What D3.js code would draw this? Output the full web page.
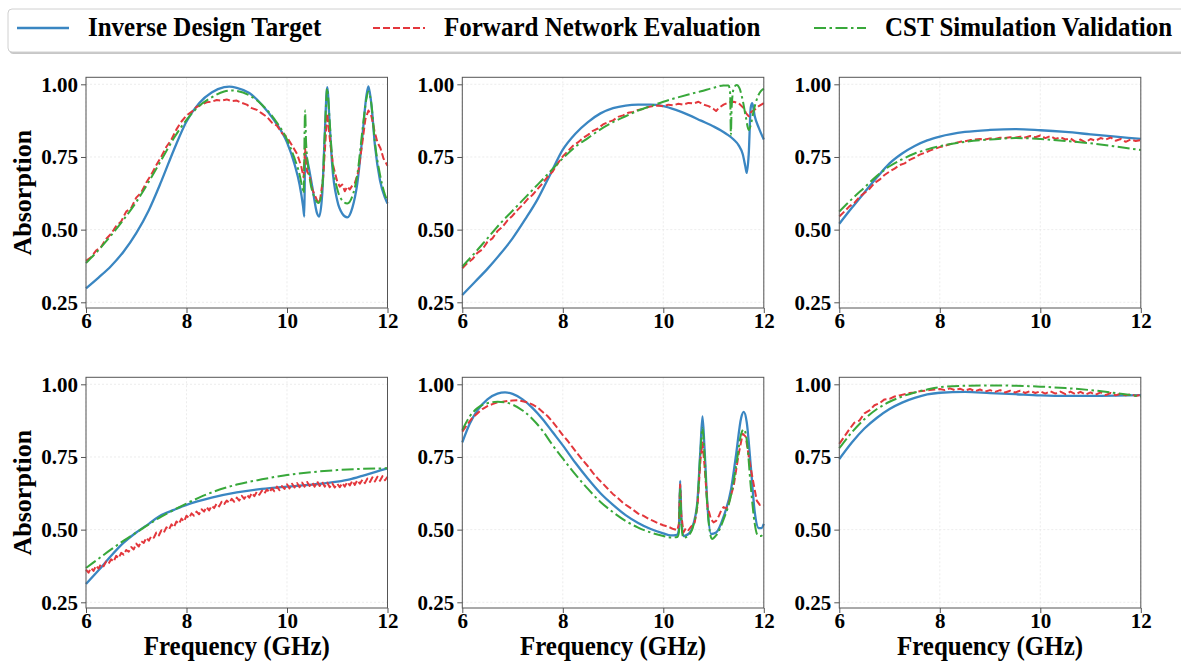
<!DOCTYPE html>
<meta charset="utf-8">
<script src="https://d3js.org/d3.v7.min.js"></script>
<style>
  body { margin: 0; background: #fff; }
  text { font-family: "Liberation Serif", "Times New Roman", serif; font-weight: bold; }
</style>
<svg id="chart" width="1181" height="663"></svg>
<script>

// Series names, in legend order
var seriesNames = ["Inverse Design Target", "Forward Network Evaluation", "CST Simulation Validation"];
var xTicks = [6, 8, 10, 12];
var yTicks = [0.25, 0.50, 0.75, 1.00];

// [frequency GHz, absorption]
var target1 = [[6.0,.298],[6.25,.335],[6.5,.375],[6.75,.425],[7.0,.488],[7.25,.567],[7.5,.667],[7.75,.775],[8.0,.872],[8.25,.935],[8.5,.972],[8.75,.99],[8.85,.992],[9.0,.988],[9.25,.97],[9.5,.93],[9.75,.875],[10.0,.80],[10.15,.725],[10.25,.655],[10.32,.58],[10.345,.545],[10.36,.76],[10.4,.74],[10.5,.65],[10.6,.555],[10.64,.545],[10.7,.62],[10.75,.82],[10.8,.99],[10.85,.86],[10.9,.72],[11.0,.60],[11.1,.555],[11.2,.542],[11.3,.575],[11.4,.66],[11.5,.82],[11.58,.96],[11.62,.993],[11.68,.93],[11.75,.79],[11.85,.67],[11.95,.61],[12.0,.59]];
var forward1 = [[6.0,.393],[6.1,.405],[6.2,.428],[6.3,.44],[6.4,.468],[6.5,.486],[6.6,.512],[6.7,.528],[6.8,.562],[6.9,.575],[7.0,.61],[7.1,.628],[7.2,.662],[7.3,.69],[7.4,.722],[7.5,.752],[7.6,.785],[7.7,.81],[7.8,.845],[7.9,.872],[8.0,.893],[8.1,.905],[8.2,.922],[8.3,.93],[8.4,.938],[8.5,.94],[8.6,.946],[8.7,.944],[8.8,.948],[8.9,.942],[9.0,.944],[9.1,.936],[9.2,.93],[9.3,.918],[9.4,.912],[9.5,.90],[9.6,.888],[9.7,.868],[9.8,.858],[9.9,.832],[10.0,.818],[10.1,.79],[10.2,.76],[10.28,.72],[10.33,.68],[10.36,.78],[10.4,.70],[10.45,.685],[10.5,.64],[10.6,.60],[10.65,.592],[10.72,.68],[10.8,.90],[10.86,.80],[10.92,.72],[11.0,.665],[11.05,.648],[11.1,.655],[11.15,.632],[11.2,.648],[11.25,.638],[11.3,.652],[11.35,.66],[11.42,.70],[11.5,.80],[11.56,.88],[11.62,.91],[11.68,.89],[11.74,.84],[11.8,.80],[11.86,.78],[11.92,.745],[12.0,.72]];
var cst1 = [[6.0,.385],[6.25,.43],[6.5,.48],[6.75,.535],[7.0,.595],[7.25,.665],[7.5,.74],[7.75,.815],[8.0,.878],[8.25,.925],[8.5,.955],[8.75,.975],[8.9,.979],[9.0,.977],[9.25,.962],[9.5,.93],[9.75,.88],[10.0,.81],[10.15,.745],[10.25,.69],[10.31,.64],[10.33,.625],[10.36,.91],[10.38,.80],[10.45,.68],[10.55,.61],[10.63,.592],[10.7,.64],[10.75,.82],[10.8,.985],[10.85,.87],[10.9,.74],[11.0,.64],[11.1,.60],[11.2,.59],[11.3,.615],[11.4,.69],[11.5,.84],[11.58,.95],[11.62,.975],[11.68,.93],[11.75,.80],[11.85,.69],[11.95,.62],[12.0,.60]];

var target2 = [[6.0,.275],[6.25,.32],[6.5,.365],[6.75,.415],[7.0,.47],[7.25,.535],[7.5,.605],[7.75,.69],[8.0,.775],[8.25,.83],[8.5,.87],[8.75,.90],[9.0,.918],[9.25,.927],[9.5,.93],[9.75,.93],[10.0,.925],[10.25,.912],[10.5,.895],[10.75,.875],[11.0,.855],[11.25,.83],[11.4,.81],[11.5,.79],[11.58,.76],[11.63,.72],[11.66,.695],[11.7,.76],[11.74,.92],[11.77,.935],[11.82,.89],[11.9,.85],[12.0,.81]];
var forward2 = [[6.0,.367],[6.1,.385],[6.2,.398],[6.3,.42],[6.4,.432],[6.5,.458],[6.6,.47],[6.7,.495],[6.8,.51],[6.9,.532],[7.0,.548],[7.1,.568],[7.2,.585],[7.3,.605],[7.4,.62],[7.5,.64],[7.6,.66],[7.7,.682],[7.8,.70],[7.9,.728],[8.0,.752],[8.1,.77],[8.2,.788],[8.3,.80],[8.4,.815],[8.5,.826],[8.6,.84],[8.7,.848],[8.8,.862],[8.9,.87],[9.0,.876],[9.1,.888],[9.2,.893],[9.3,.902],[9.4,.905],[9.5,.912],[9.6,.915],[9.7,.922],[9.8,.925],[9.9,.927],[10.0,.924],[10.1,.93],[10.2,.928],[10.3,.933],[10.4,.93],[10.5,.936],[10.6,.934],[10.7,.94],[10.8,.93],[10.9,.925],[11.0,.915],[11.05,.908],[11.1,.918],[11.2,.93],[11.3,.938],[11.4,.94],[11.5,.935],[11.6,.918],[11.65,.90],[11.7,.89],[11.75,.905],[11.8,.91],[11.9,.925],[12.0,.935]];
var cst2 = [[6.0,.373],[6.25,.42],[6.5,.47],[6.75,.52],[7.0,.565],[7.25,.61],[7.5,.655],[7.75,.70],[8.0,.745],[8.25,.785],[8.5,.815],[8.75,.845],[9.0,.87],[9.25,.89],[9.5,.91],[9.75,.925],[10.0,.94],[10.25,.953],[10.5,.965],[10.75,.976],[11.0,.988],[11.2,.996],[11.3,.996],[11.33,.97],[11.345,.826],[11.36,.92],[11.4,.985],[11.46,.998],[11.52,.985],[11.58,.945],[11.64,.89],[11.7,.843],[11.74,.86],[11.8,.91],[11.88,.958],[11.95,.978],[12.0,.985]];

var target3 = [[6.0,.52],[6.25,.575],[6.5,.628],[6.75,.68],[7.0,.728],[7.25,.762],[7.5,.788],[7.75,.807],[8.0,.82],[8.5,.836],[9.0,.843],[9.5,.846],[10.0,.842],[10.5,.836],[11.0,.828],[11.5,.82],[12.0,.812]];
var forward3 = [[6.0,.545],[6.1,.562],[6.2,.58],[6.3,.592],[6.4,.612],[6.5,.626],[6.6,.64],[6.7,.66],[6.8,.672],[6.9,.688],[7.0,.70],[7.1,.71],[7.2,.722],[7.3,.728],[7.4,.74],[7.5,.748],[7.6,.758],[7.7,.764],[7.8,.772],[7.9,.778],[8.0,.784],[8.1,.788],[8.2,.794],[8.3,.798],[8.4,.802],[8.5,.804],[8.6,.808],[8.7,.81],[8.8,.812],[8.9,.81],[9.0,.814],[9.1,.812],[9.2,.816],[9.3,.815],[9.4,.818],[9.5,.816],[9.6,.82],[9.7,.817],[9.8,.822],[9.9,.818],[10.0,.824],[10.1,.815],[10.2,.822],[10.3,.812],[10.4,.818],[10.5,.81],[10.6,.814],[10.7,.802],[10.8,.81],[10.9,.80],[11.0,.812],[11.1,.806],[11.2,.815],[11.3,.81],[11.4,.817],[11.5,.806],[11.6,.812],[11.7,.802],[11.8,.81],[11.9,.805],[12.0,.808]];
var cst3 = [[6.0,.562],[6.25,.605],[6.5,.645],[6.75,.685],[7.0,.718],[7.25,.742],[7.5,.762],[7.75,.776],[8.0,.787],[8.5,.802],[9.0,.81],[9.5,.815],[10.0,.812],[10.5,.805],[11.0,.797],[11.5,.786],[12.0,.774]];

var target4 = [[6.0,.313],[6.25,.36],[6.5,.41],[6.75,.455],[7.0,.49],[7.25,.52],[7.5,.55],[7.75,.568],[8.0,.585],[8.5,.61],[9.0,.628],[9.5,.64],[10.0,.648],[10.5,.655],[11.0,.665],[11.25,.673],[11.5,.685],[11.75,.698],[12.0,.711]];
var forward4 = [[6.0,.362],[6.05,.352],[6.1,.368],[6.15,.358],[6.2,.376],[6.25,.366],[6.3,.382],[6.35,.374],[6.4,.39],[6.45,.383],[6.5,.398],[6.55,.39],[6.6,.41],[6.65,.402],[6.7,.42],[6.75,.414],[6.8,.43],[6.85,.424],[6.9,.44],[6.95,.432],[7.0,.452],[7.05,.442],[7.1,.46],[7.15,.454],[7.2,.472],[7.25,.462],[7.3,.478],[7.35,.472],[7.4,.49],[7.45,.48],[7.5,.498],[7.55,.49],[7.6,.508],[7.65,.50],[7.7,.518],[7.75,.508],[7.8,.528],[7.85,.52],[7.9,.538],[7.95,.528],[8.0,.548],[8.05,.54],[8.1,.556],[8.15,.548],[8.2,.562],[8.25,.553],[8.3,.57],[8.35,.562],[8.4,.578],[8.45,.566],[8.5,.582],[8.55,.574],[8.6,.59],[8.65,.58],[8.7,.596],[8.75,.588],[8.8,.60],[8.85,.592],[8.9,.606],[8.95,.596],[9.0,.61],[9.05,.60],[9.1,.616],[9.15,.606],[9.2,.62],[9.25,.61],[9.3,.626],[9.35,.615],[9.4,.63],[9.45,.62],[9.5,.634],[9.55,.624],[9.6,.638],[9.65,.628],[9.7,.642],[9.75,.632],[9.8,.648],[9.85,.636],[9.9,.65],[9.95,.64],[10.0,.656],[10.05,.642],[10.1,.658],[10.15,.645],[10.2,.66],[10.25,.646],[10.3,.662],[10.35,.648],[10.4,.664],[10.45,.65],[10.5,.662],[10.55,.648],[10.6,.666],[10.65,.65],[10.7,.664],[10.75,.648],[10.8,.662],[10.85,.646],[10.9,.66],[10.95,.645],[11.0,.658],[11.05,.646],[11.1,.66],[11.15,.648],[11.2,.664],[11.25,.652],[11.3,.668],[11.35,.654],[11.4,.67],[11.45,.658],[11.5,.672],[11.55,.66],[11.6,.676],[11.65,.664],[11.7,.68],[11.75,.666],[11.8,.682],[11.85,.668],[11.9,.684],[11.95,.67],[12.0,.682]];
var cst4 = [[6.0,.368],[6.25,.40],[6.5,.432],[6.75,.462],[7.0,.49],[7.25,.518],[7.5,.545],[7.75,.568],[8.0,.59],[8.25,.61],[8.5,.628],[9.0,.655],[9.5,.673],[10.0,.688],[10.5,.698],[11.0,.705],[11.5,.709],[12.0,.711]];

var target5 = [[6.0,.80],[6.15,.865],[6.3,.91],[6.5,.948],[6.7,.968],[6.85,.972],[7.0,.967],[7.2,.948],[7.4,.918],[7.6,.88],[7.8,.835],[8.0,.79],[8.25,.73],[8.5,.675],[8.75,.625],[9.0,.585],[9.25,.55],[9.5,.523],[9.75,.502],[10.0,.487],[10.15,.48],[10.27,.482],[10.31,.50],[10.335,.668],[10.36,.54],[10.4,.478],[10.5,.485],[10.6,.52],[10.68,.60],[10.74,.78],[10.78,.89],[10.82,.78],[10.88,.58],[10.95,.485],[11.05,.49],[11.2,.545],[11.35,.64],[11.45,.76],[11.55,.885],[11.6,.905],[11.66,.87],[11.74,.72],[11.82,.56],[11.9,.505],[11.95,.505],[12.0,.52]];
var forward5 = [[6.0,.837],[6.1,.862],[6.2,.885],[6.3,.90],[6.4,.915],[6.5,.925],[6.6,.932],[6.7,.938],[6.8,.94],[6.9,.943],[7.0,.944],[7.1,.945],[7.2,.942],[7.3,.938],[7.4,.93],[7.5,.92],[7.6,.905],[7.7,.89],[7.8,.87],[7.9,.848],[8.0,.825],[8.1,.805],[8.2,.782],[8.3,.76],[8.4,.738],[8.5,.718],[8.6,.695],[8.7,.675],[8.8,.658],[8.9,.64],[9.0,.622],[9.1,.608],[9.2,.592],[9.3,.58],[9.4,.568],[9.5,.555],[9.6,.548],[9.7,.538],[9.8,.53],[9.9,.522],[10.0,.515],[10.1,.51],[10.2,.502],[10.28,.498],[10.31,.52],[10.335,.655],[10.36,.55],[10.4,.49],[10.45,.505],[10.5,.498],[10.55,.51],[10.62,.52],[10.68,.58],[10.74,.74],[10.78,.80],[10.82,.72],[10.88,.58],[10.95,.535],[11.0,.525],[11.05,.53],[11.1,.545],[11.15,.565],[11.2,.578],[11.25,.572],[11.3,.59],[11.4,.65],[11.5,.76],[11.58,.83],[11.64,.82],[11.72,.73],[11.8,.655],[11.86,.60],[11.92,.585],[12.0,.585]];
var cst5 = [[6.0,.843],[6.15,.89],[6.3,.918],[6.5,.935],[6.7,.94],[6.85,.938],[7.0,.93],[7.2,.91],[7.4,.88],[7.6,.84],[7.8,.79],[8.0,.745],[8.25,.69],[8.5,.64],[8.75,.595],[9.0,.56],[9.25,.53],[9.5,.507],[9.75,.49],[10.0,.478],[10.15,.473],[10.28,.475],[10.31,.49],[10.335,.64],[10.36,.52],[10.4,.472],[10.5,.48],[10.6,.515],[10.68,.595],[10.74,.77],[10.78,.85],[10.82,.76],[10.88,.57],[10.97,.468],[11.05,.48],[11.2,.535],[11.35,.62],[11.45,.72],[11.55,.83],[11.6,.845],[11.66,.81],[11.74,.65],[11.82,.52],[11.88,.48],[11.94,.478],[12.0,.49]];

var target6 = [[6.0,.743],[6.25,.80],[6.5,.848],[6.75,.885],[7.0,.915],[7.25,.937],[7.5,.953],[7.75,.965],[8.0,.971],[8.5,.974],[9.0,.97],[9.5,.966],[10.0,.962],[10.5,.96],[11.0,.96],[11.5,.961],[12.0,.963]];
var forward6 = [[6.0,.795],[6.1,.82],[6.2,.845],[6.3,.868],[6.4,.875],[6.5,.90],[6.6,.91],[6.7,.928],[6.8,.935],[6.9,.948],[7.0,.95],[7.1,.958],[7.2,.962],[7.3,.966],[7.4,.97],[7.5,.972],[7.6,.976],[7.7,.978],[7.8,.98],[7.9,.982],[8.0,.984],[8.1,.98],[8.2,.986],[8.3,.98],[8.4,.985],[8.5,.978],[8.6,.984],[8.7,.976],[8.8,.982],[8.9,.975],[9.0,.98],[9.1,.974],[9.2,.98],[9.3,.972],[9.4,.978],[9.5,.972],[9.6,.978],[9.7,.97],[9.8,.977],[9.9,.97],[10.0,.976],[10.1,.968],[10.2,.976],[10.3,.968],[10.4,.975],[10.5,.966],[10.6,.975],[10.7,.966],[10.8,.974],[10.9,.965],[11.0,.972],[11.1,.964],[11.2,.972],[11.3,.963],[11.4,.97],[11.5,.962],[11.6,.968],[11.7,.962],[11.8,.966],[11.9,.96],[12.0,.964]];
var cst6 = [[6.0,.78],[6.25,.835],[6.5,.88],[6.75,.915],[7.0,.94],[7.25,.958],[7.5,.972],[7.75,.982],[8.0,.99],[8.5,.995],[9.0,.996],[9.5,.995],[10.0,.992],[10.5,.987],[11.0,.98],[11.5,.97],[12.0,.958]];

var panels = [
  [target1, forward1, cst1],
  [target2, forward2, cst2],
  [target3, forward3, cst3],
  [target4, forward4, cst4],
  [target5, forward5, cst5],
  [target6, forward6, cst6]
];

// styles
var colors = ["#3a86c2", "#e3373c", "#38a83a"];
var dashes = [null, "7,3", "12,3.5,2.5,3.5"];
var curves = [d3.curveMonotoneX, d3.curveLinear, d3.curveMonotoneX];
var widths = [2.3, 2, 2];

var svg = d3.select("#chart");

var colLeft = [86, 462.3, 839.3],
    rowTop = [77.3, 377.3],
    pw = 301.5,
    ph = 230.7;

// Legend
var legend = svg.append("g");
legend.append("rect")
    .attr("x", 9.5).attr("y", 11).attr("width", 1190).attr("height", 43)
    .attr("rx", 4).attr("fill", "#999").attr("opacity", 0.55);
legend.append("rect")
    .attr("x", 8).attr("y", 9).attr("width", 1190).attr("height", 43)
    .attr("rx", 4).attr("fill", "#fff").attr("stroke", "#d0d0d0").attr("stroke-width", 1);

var legX = [17, 373, 814];
seriesNames.forEach(function(name, i) {
  legend.append("line")
      .attr("x1", legX[i]).attr("x2", legX[i] + 52)
      .attr("y1", 28).attr("y2", 28)
      .attr("stroke", colors[i])
      .attr("stroke-width", widths[i])
      .attr("stroke-dasharray", dashes[i]);
  legend.append("text")
      .attr("transform", "translate(" + (legX[i] + 71) + ",36) scale(1,1.06)")
      .attr("font-size", 25)
      .attr("fill", "#000")
      .text(name);
});

// Panels
panels.forEach(function(series, k) {
  var col = k % 3, row = Math.floor(k / 3);
  var x0 = colLeft[col], y0 = rowTop[row];

  var x = d3.scaleLinear().domain([6, 12]).range([x0, x0 + pw]);
  var y = d3.scaleLinear().domain([0.2304, 1.0241]).range([y0 + ph, y0]);

  var g = svg.append("g");

  // grid
  g.selectAll(".gx").data(xTicks).enter().append("line")
      .attr("x1", d => x(d)).attr("x2", d => x(d))
      .attr("y1", y0).attr("y2", y0 + ph)
      .attr("stroke", "#e4e4e4").attr("stroke-width", 0.7).attr("stroke-dasharray", "2,2");
  g.selectAll(".gy").data(yTicks).enter().append("line")
      .attr("x1", x0).attr("x2", x0 + pw)
      .attr("y1", d => y(d)).attr("y2", d => y(d))
      .attr("stroke", "#e4e4e4").attr("stroke-width", 0.7).attr("stroke-dasharray", "2,2");

  // curves
  series.forEach(function(data, i) {
    var line = d3.line().x(d => x(d[0])).y(d => y(d[1])).curve(curves[i]);
    g.append("path")
        .datum(data)
        .attr("d", line)
        .attr("fill", "none")
        .attr("stroke", colors[i])
        .attr("stroke-width", widths[i])
        .attr("stroke-dasharray", dashes[i])
        .attr("stroke-linejoin", "round");
  });

  // frame
  g.append("rect")
      .attr("x", x0).attr("y", y0).attr("width", pw).attr("height", ph)
      .attr("fill", "none").attr("stroke", "#555").attr("stroke-width", 1);

  // axes
  var xAxis = d3.axisBottom(x).tickValues(xTicks).tickSize(5).tickPadding(0).tickFormat(d3.format("d"));
  var yAxis = d3.axisLeft(y).tickValues(yTicks).tickSize(5).tickPadding(3).tickFormat(d3.format(".2f"));

  var gx = g.append("g").attr("transform", "translate(0," + (y0 + ph) + ")").call(xAxis);
  var gy = g.append("g").attr("transform", "translate(" + x0 + ",0)").call(yAxis);
  [gx, gy].forEach(function(a) {
    a.select(".domain").remove();
    a.selectAll(".tick line").attr("stroke", "#555");
    a.selectAll(".tick text").attr("font-size", 21).attr("fill", "#000")
        .attr("font-family", "'Liberation Serif', 'Times New Roman', serif").attr("font-weight", "bold");
  });

  if (col === 0) {
    g.append("text")
        .attr("transform", "translate(31," + (y0 + ph / 2) + ") rotate(-90) scale(1.04,1)")
        .attr("text-anchor", "middle")
        .attr("font-size", 25)
        .text("Absorption");
  }
  if (row === 1) {
    g.append("text")
        .attr("transform", "translate(" + (x0 + pw / 2) + ",655) scale(1,1.08)")
        .attr("text-anchor", "middle")
        .attr("font-size", 25)
        .text("Frequency (GHz)");
  }
});

</script>
